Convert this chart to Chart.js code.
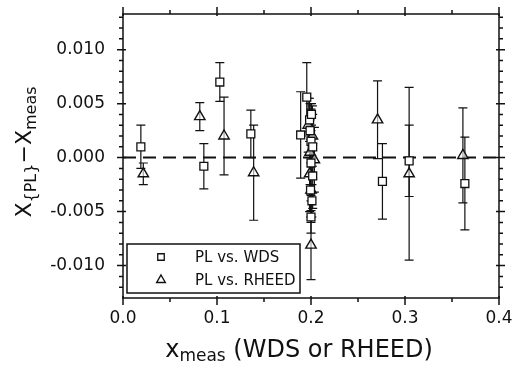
<!DOCTYPE html>
<html>
<head>
<meta charset="utf-8">
<script src="https://cdn.jsdelivr.net/npm/chart.js@4.4.1/dist/chart.umd.min.js"></script>
<style>
  html, body { margin: 0; padding: 0; background: #fff; }
</style>
</head>
<body>
<canvas id="chart" width="513" height="365"></canvas>
<script>
// datos
const wdsX   = [0.019, 0.086, 0.103, 0.136, 0.189, 0.1955, 0.1985, 0.199, 0.200, 0.2005, 0.2018, 0.200, 0.2018, 0.1995, 0.2010, 0.200, 0.276, 0.3044, 0.3637];
const wdsY   = [0.0010, -0.0008, 0.0070, 0.0022, 0.0021, 0.0056, 0.0035, 0.0025, 0.0015, 0.0040, 0.0010, -0.0005, -0.0017, -0.0030, -0.0040, -0.0055, -0.0022, -0.0003, -0.0024];
const wdsErr = [0.0020, 0.0021, 0.0018, 0.0022, 0.0040, 0.0032, 0.0020, 0.0025, 0.0030, 0.0010, 0.0030, 0.0030, 0.0030, 0.0025, 0.0015, 0.0015, 0.0035, 0.0033, 0.0043];

const rheedX   = [0.0216, 0.0817, 0.1075, 0.139, 0.197, 0.2015, 0.199, 0.2036, 0.1985, 0.200, 0.200, 0.2708, 0.3044, 0.3616];
const rheedY   = [-0.0015, 0.0038, 0.0020, -0.0014, 0.0030, 0.0020, 0.0005, -0.0002, -0.0015, -0.0030, -0.0081, 0.0035, -0.0015, 0.0002];
const rheedErr = [0.0010, 0.0013, 0.0036, 0.0044, 0.0025, 0.0028, 0.0030, 0.0030, 0.0035, 0.0030, 0.0032, 0.0036, 0.0080, 0.0044];

const xTickValues = [0.0, 0.1, 0.2, 0.3, 0.4];
const yTickValues = [-0.010, -0.005, 0.000, 0.005, 0.010];

const INK = '#111';
const FONT = 'DejaVu Sans';

// barras de error, dibujadas con las escalas del grafico
const errorBars = {
    id: 'errorBars',
    beforeDatasetsDraw(chart) {
        const ctx = chart.ctx;
        const xs = chart.scales.x, ys = chart.scales.y;
        ctx.save();
        ctx.strokeStyle = INK;
        ctx.lineWidth = 1.2;
        chart.data.datasets.forEach(ds => {
            if (!ds.errors) return;
            ds.data.forEach((p, i) => {
                const px = xs.getPixelForValue(p.x);
                const top = ys.getPixelForValue(p.y + ds.errors[i]);
                const bot = ys.getPixelForValue(p.y - ds.errors[i]);
                ctx.beginPath();
                ctx.moveTo(px, top); ctx.lineTo(px, bot);
                ctx.moveTo(px - 4.5, top); ctx.lineTo(px + 4.5, top);
                ctx.moveTo(px - 4.5, bot); ctx.lineTo(px + 4.5, bot);
                ctx.stroke();
            });
        });
        ctx.restore();
    }
};

// marco con marcas mayores y menores
const frame = {
    id: 'frame',
    afterDraw(chart) {
        const ctx = chart.ctx;
        const a = chart.chartArea;
        const xs = chart.scales.x, ys = chart.scales.y;
        ctx.save();
        ctx.strokeStyle = INK;
        ctx.lineWidth = 1.5;
        ctx.strokeRect(a.left, a.top, a.right - a.left, a.bottom - a.top);
        ctx.beginPath();
        for (let k = 0; k <= 8; k++) {
            const px = xs.getPixelForValue(k * 0.05);
            const major = k % 2 === 0;
            const out = major ? 7 : 4, inn = major ? 2 : 0;
            ctx.moveTo(px, a.bottom - inn); ctx.lineTo(px, a.bottom + out);
            ctx.moveTo(px, a.top + inn); ctx.lineTo(px, a.top - out);
        }
        for (let k = -12; k <= 13; k++) {
            const py = ys.getPixelForValue(k / 1000);
            const major = k % 5 === 0;
            const out = major ? 6 : 4, inn = major ? 3 : 0;
            ctx.moveTo(a.left + inn, py); ctx.lineTo(a.left - out, py);
            ctx.moveTo(a.right - inn, py); ctx.lineTo(a.right + out, py);
        }
        ctx.stroke();
        ctx.restore();
    }
};

// leyenda y titulos de ejes con subindices
function drawParts(ctx, parts, x, y, align) {
    let total = 0;
    parts.forEach(p => { ctx.font = p.size + 'px "' + FONT + '"'; p.w = ctx.measureText(p.t).width; total += p.w; });
    let cx = align === 'center' ? x - total / 2 : x;
    parts.forEach(p => {
        ctx.font = p.size + 'px "' + FONT + '"';
        ctx.fillText(p.t, cx, y + (p.dy || 0));
        cx += p.w;
    });
}

const annotations = {
    id: 'annotations',
    afterDraw(chart) {
        const ctx = chart.ctx;
        const a = chart.chartArea;
        ctx.save();
        ctx.fillStyle = INK;
        ctx.textBaseline = 'alphabetic';

        // titulo eje x
        drawParts(ctx, [
            { t: 'x', size: 24 },
            { t: 'meas', size: 17, dy: 4 },
            { t: ' (WDS or RHEED)', size: 24 }
        ], (a.left + a.right) / 2 - 12, 357, 'center');

        // titulo eje y
        ctx.translate(31, 152);
        ctx.rotate(-Math.PI / 2);
        drawParts(ctx, [
            { t: 'X', size: 22 },
            { t: '{PL}', size: 16, dy: 5 },
            { t: '\u2212X', size: 22 },
            { t: 'meas', size: 16, dy: 5 }
        ], 0, 0, 'center');
        ctx.restore();

        // leyenda
        ctx.save();
        ctx.strokeStyle = INK;
        ctx.lineWidth = 1.5;
        ctx.strokeRect(127, 244, 173, 49);
        ctx.font = '15px "' + FONT + '"';
        ctx.textBaseline = 'middle';
        chart.data.datasets.slice(0, 2).forEach((ds, i) => {
            const cy = 257 + i * 23;
            ctx.fillStyle = '#fff';
            ctx.strokeStyle = INK;
            ctx.lineWidth = ds.borderWidth;
            Chart.helpers.drawPoint(ctx, {
                pointStyle: ds.pointStyle, radius: ds.pointRadius - 1,
                borderWidth: ds.borderWidth
            }, 161, cy);
            ctx.fillStyle = INK;
            ctx.fillText(ds.label, 195, cy + 1);
        });
        ctx.restore();
    }
};

new Chart(document.getElementById('chart').getContext('2d'), {
    type: 'scatter',
    data: {
        datasets: [
            {
                label: 'PL vs. WDS',
                data: wdsX.map((x, i) => ({ x: x, y: wdsY[i] })),
                errors: wdsErr,
                pointStyle: 'rect',
                pointRadius: 5.6,
                borderWidth: 1.3,
                borderColor: INK,
                backgroundColor: '#fff',
                pointBorderColor: INK,
                pointBackgroundColor: '#fff',
                order: 1
            },
            {
                label: 'PL vs. RHEED',
                data: rheedX.map((x, i) => ({ x: x, y: rheedY[i] })),
                errors: rheedErr,
                pointStyle: 'triangle',
                pointRadius: 6,
                borderWidth: 1.4,
                borderColor: INK,
                backgroundColor: 'rgba(255,255,255,0.6)',
                pointBorderColor: INK,
                pointBackgroundColor: 'rgba(255,255,255,0.6)',
                order: 1
            },
            {
                type: 'line',
                label: 'cero',
                data: [{ x: 0, y: 0 }, { x: 0.4, y: 0 }],
                borderColor: INK,
                borderWidth: 2,
                borderDash: [13, 7],
                pointRadius: 0,
                order: 3
            }
        ]
    },
    options: {
        responsive: false,
        animation: false,
        layout: { padding: { top: 14, right: 14, left: 0, bottom: 0 } },
        plugins: {
            legend: { display: false },
            tooltip: { enabled: false }
        },
        scales: {
            x: {
                type: 'linear',
                min: 0, max: 0.4,
                afterBuildTicks: s => { s.ticks = xTickValues.map(v => ({ value: v })); },
                afterFit: s => { s.height = 67; s.paddingLeft = 0; s.paddingRight = 0; },
                grid: { display: false, drawTicks: false },
                border: { display: false },
                ticks: {
                    color: INK,
                    padding: 10,
                    maxRotation: 0,
                    font: { family: FONT, size: 17 },
                    callback: v => v.toFixed(1)
                }
            },
            y: {
                min: -0.013, max: 0.0133,
                afterBuildTicks: s => { s.ticks = yTickValues.map(v => ({ value: v })); },
                afterFit: s => { s.width = 123; s.paddingTop = 0; s.paddingBottom = 0; },
                grid: { display: false, drawTicks: false },
                border: { display: false },
                ticks: {
                    color: INK,
                    padding: 18,
                    font: { family: FONT, size: 17 },
                    callback: v => v.toFixed(3)
                }
            }
        }
    },
    plugins: [errorBars, frame, annotations]
});
</script>
</body>
</html>
